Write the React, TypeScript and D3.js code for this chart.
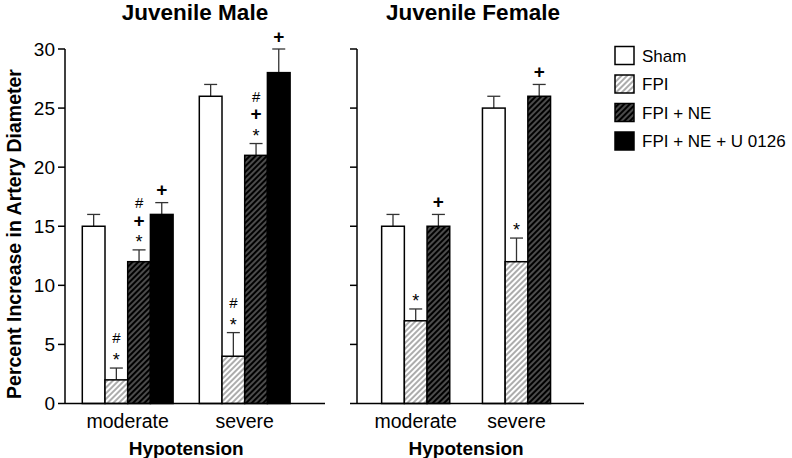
import React from 'react';
import * as d3 from 'd3';

const categories = ['moderate', 'severe'];
const seriesNames = ['Sham', 'FPI', 'FPI + NE', 'FPI + NE + U 0126'];
const yTicks = [0, 5, 10, 15, 20, 25, 30];

// Juvenile Male (moderate, severe)
const maleSham = [15, 26];
const maleFPI = [2, 4];
const maleNE = [12, 21];
const maleU0126 = [16, 28];
const maleShamErr = [1, 1];
const maleFPIErr = [1, 2];
const maleNEErr = [1, 1];
const maleU0126Err = [1, 2];
const maleMarks = [
  [[], ['*', '#'], ['*', '+', '#'], ['+']],
  [[], ['*', '#'], ['*', '+', '#'], ['+']],
];

// Juvenile Female (moderate, severe)
const femaleSham = [15, 25];
const femaleFPI = [7, 12];
const femaleNE = [15, 26];
const femaleShamErr = [1, 1];
const femaleFPIErr = [1, 2];
const femaleNEErr = [1, 1];
const femaleMarks = [
  [[], ['*'], ['+']],
  [[], ['*'], ['+']],
];

const FONT = 'Liberation Sans, Arial, Helvetica, sans-serif';
const fills = ['#ffffff', 'url(#hatchLight)', 'url(#hatchDark)', '#000000'];

const y = d3.scaleLinear().domain([0, 30]).range([403.5, 49]);
const BW = 22.7;

type PanelProps = {
  title: string;
  axisX: number;
  axisEnd: number;
  groupRange: [number, number];
  means: number[][];
  errs: number[][];
  marks: string[][][];
  showLabels: boolean;
  titleX: number;
};

function Panel({ title, axisX, axisEnd, groupRange, means, errs, marks, showLabels, titleX }: PanelProps) {
  const xg = d3.scaleBand<string>().domain(categories).range(groupRange).padding(0);
  const n = means.length;
  const inner = d3.scaleBand<string>().domain(seriesNames.slice(0, n)).range([0, n * BW]).padding(0);
  return (
    <g>
      <text x={titleX} y={20} textAnchor="middle" fontFamily={FONT} fontWeight="bold" fontSize={22.5}>{title}</text>
      {/* y axis */}
      <line x1={axisX} x2={axisX} y1={y(30)} y2={y(0)} stroke="#000" strokeWidth={1.5} />
      {yTicks.map((t) => (
        <g key={t}>
          <line x1={axisX - 7} x2={axisX} y1={y(t)} y2={y(t)} stroke="#000" strokeWidth={1.5} />
          {showLabels && (
            <text x={axisX - 10} y={y(t)} dy="0.36em" textAnchor="end" fontFamily={FONT} fontSize={19}>{t}</text>
          )}
        </g>
      ))}
      {/* bars */}
      {categories.map((c, ci) => {
        const center = (xg(c) as number) + xg.bandwidth() / 2;
        const start = center - (n * BW) / 2;
        return (
          <g key={c}>
            {means.map((m, si) => {
              const x0 = start + (inner(seriesNames[si]) as number);
              const v = m[ci];
              const top = y(v + errs[si][ci]);
              const cx = x0 + BW / 2;
              const mk = marks[ci][si];
              return (
                <g key={si}>
                  <line x1={cx} x2={cx} y1={y(v)} y2={top} stroke="#333" strokeWidth={1.3} />
                  <line x1={cx - 6.5} x2={cx + 6.5} y1={top} y2={top} stroke="#333" strokeWidth={1.3} />
                  <rect x={x0} y={y(v)} width={BW} height={y(0) - y(v)} fill={fills[si]} stroke="#000" strokeWidth={1.5} />
                  {mk.map((s, k) => (
                    <text key={k} x={cx} y={top - 13 - k * 17} dy={s === '*' ? '0.62em' : '0.36em'}
                      textAnchor="middle" fontFamily={FONT}
                      fontWeight={s === '+' ? 'bold' : 'normal'}
                      fontSize={s === '+' ? 19 : s === '*' ? 18 : 15}>{s}</text>
                  ))}
                </g>
              );
            })}
            <text x={center} y={421} dy="0.36em" textAnchor="middle" fontFamily={FONT} fontSize={19.5}>{c}</text>
          </g>
        );
      })}
      {/* x axis */}
      <line x1={axisX} x2={axisEnd} y1={y(0)} y2={y(0)} stroke="#000" strokeWidth={1.5} />
      <text x={(groupRange[0] + groupRange[1]) / 2} y={448} dy="0.36em" textAnchor="middle" fontFamily={FONT} fontWeight="bold" fontSize={19}>Hypotension</text>
    </g>
  );
}

export default function App() {
  const legendY = d3.scaleBand<string>().domain(seriesNames).range([42, 156]).padding(0);
  return (
    <svg width={792} height={458} style={{ position: 'absolute', left: 0, top: 0, background: '#fff' }}>
      <defs>
        <pattern id="hatchLight" patternUnits="userSpaceOnUse" width={4} height={4} patternTransform="rotate(45)">
          <rect width={4} height={4} fill="#fff" />
          <line x1={1} x2={1} y1={0} y2={4} stroke="#5a5a5a" strokeWidth={1} />
        </pattern>
        <pattern id="hatchDark" patternUnits="userSpaceOnUse" width={4} height={4} patternTransform="rotate(45)">
          <rect width={4} height={4} fill="#000" />
          <line x1={1} x2={1} y1={0} y2={4} stroke="#a8a8a8" strokeWidth={0.9} />
        </pattern>
      </defs>
      <rect width={792} height={458} fill="#fff" />
      <text transform="translate(14,234) rotate(-90)" textAnchor="middle" dy="0.36em" fontFamily={FONT} fontWeight="bold" fontSize={19.5}>Percent Increase in Artery Diameter</text>
      <Panel title="Juvenile Male" titleX={195} axisX={65} axisEnd={325} groupRange={[69.2, 303.2]}
        means={[maleSham, maleFPI, maleNE, maleU0126]} errs={[maleShamErr, maleFPIErr, maleNEErr, maleU0126Err]}
        marks={maleMarks} showLabels={true} />
      <Panel title="Juvenile Female" titleX={473} axisX={357} axisEnd={584} groupRange={[365.3, 566.9]}
        means={[femaleSham, femaleFPI, femaleNE]} errs={[femaleShamErr, femaleFPIErr, femaleNEErr]}
        marks={femaleMarks} showLabels={false} />
      {seriesNames.map((s, i) => {
        const yy = (legendY(s) as number);
        return (
          <g key={s}>
            <rect x={615} y={yy + 4.5} width={19} height={18} fill={fills[i]} stroke="#000" strokeWidth={1.5} />
            <text x={642} y={yy + 13.5} dy="0.36em" fontFamily={FONT} fontSize={17}>{s}</text>
          </g>
        );
      })}
    </svg>
  );
}
